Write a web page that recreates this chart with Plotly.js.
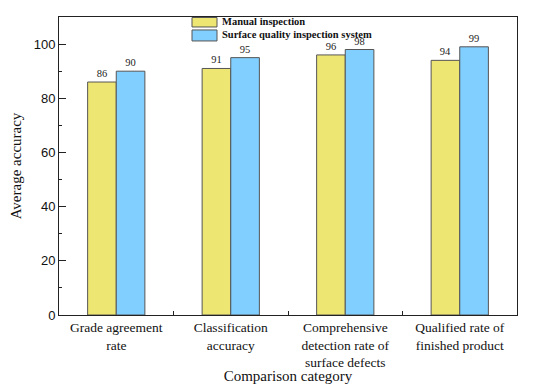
<!DOCTYPE html>
<html>
<head>
<meta charset="utf-8">
<script src="https://cdn.plot.ly/plotly-3.0.1.min.js"></script>
<style>html,body{margin:0;padding:0;background:#fff;}#chart{width:541px;height:384px;}</style>
</head>
<body>
<div id="chart"></div>
<script>
const categories = [
  "Grade agreement<br>rate",
  "Classification<br>accuracy",
  "Comprehensive<br>detection rate of<br>surface defects",
  "Qualified rate of<br>finished product"
];
const seriesNames = ["Manual inspection", "Surface quality inspection system"];
const seriesColors = ["#EEE673", "#80CFFF"];
const manualValues = [86, 91, 96, 94];
const systemValues = [90, 95, 98, 99];

const serif = "'Liberation Serif', 'Times New Roman', serif";
const sans = "'Liberation Sans', Arial, sans-serif";

const traces = [manualValues, systemValues].map((vals, i) => ({
  type: "bar", name: seriesNames[i], x: categories, y: vals,
  text: vals.map(String), textposition: "outside", cliponaxis: false,
  textfont: {family: serif, size: 10.5, color: "#222"},
  marker: {color: seriesColors[i], line: {color: "#555", width: 1}},
  showlegend: false
}));

// custom legend (wide swatches, tight rows like the reference)
const legX0 = 0.2904, legX1 = 0.345, legTextX = 0.3515;
const legRows = [[0.9665, 0.9983, 0.9840], [0.9196, 0.9565, 0.9400]];
const shapes = legRows.map((r, i) => ({
  type: "rect", xref: "paper", yref: "paper",
  x0: legX0, x1: legX1, y0: r[0], y1: r[1],
  fillcolor: seriesColors[i], line: {color: "#555", width: 1}
}));
const annotations = legRows.map((r, i) => ({
  xref: "paper", yref: "paper", x: legTextX, y: r[2],
  xanchor: "left", yanchor: "middle", showarrow: false,
  text: "<b>" + seriesNames[i] + "</b>",
  font: {family: serif, size: 10.5, color: "#111"}
}));

const layout = {
  width: 541, height: 384,
  margin: {l: 59, r: 24, t: 17, b: 68.5, pad: 0},
  paper_bgcolor: "#fff", plot_bgcolor: "#fff",
  barmode: "group", bargap: 0.5, bargroupgap: 0,
  showlegend: false,
  shapes: shapes,
  annotations: annotations,
  xaxis: {
    type: "category",
    showline: true, linecolor: "#222", linewidth: 1, mirror: true,
    ticks: "inside", tickson: "boundaries", ticklen: 4, tickcolor: "#222",
    tickfont: {family: serif, size: 13.5, color: "#111"},
    showgrid: false, zeroline: false, automargin: false,
    title: {text: "Comparison category", font: {family: serif, size: 15, color: "#111"}, standoff: 0}
  },
  yaxis: {
    range: [0, 110], dtick: 20, tick0: 0,
    showline: true, linecolor: "#222", linewidth: 1, mirror: true,
    ticks: "inside", ticklen: 7, tickcolor: "#222",
    minor: {dtick: 10, ticks: "inside", ticklen: 3, tickcolor: "#222", showgrid: false},
    tickfont: {family: sans, size: 13, color: "#111"},
    showgrid: false, zeroline: false, automargin: false,
    title: {text: "Average accuracy", font: {family: serif, size: 15, color: "#111"}, standoff: 8}
  }
};

Plotly.newPlot("chart", traces, layout, {displayModeBar: false, staticPlot: true});
</script>
</body>
</html>
